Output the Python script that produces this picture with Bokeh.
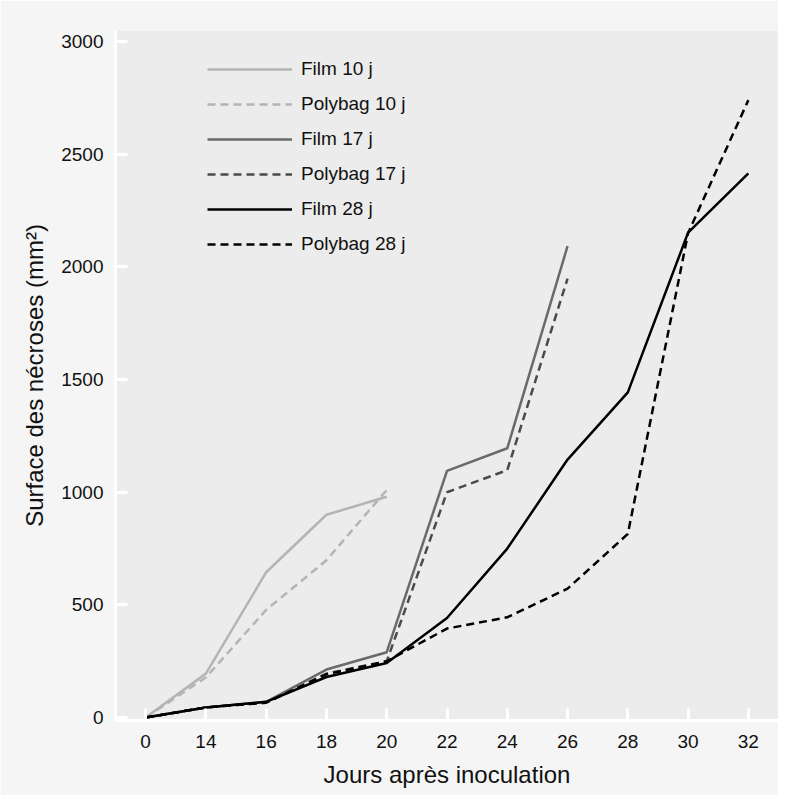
from bokeh.plotting import figure
from bokeh.models import FixedTicker, Legend, LegendItem
from bokeh.embed import file_html
from bokeh.resources import INLINE

days = ["0", "14", "16", "18", "20", "22", "24", "26", "28", "30", "32"]

film_10 = [0, 195, 645, 900, 980]
polybag_10 = [0, 178, 478, 698, 1010]
film_17 = [0, 45, 70, 213, 290, 1095, 1195, 2092]
polybag_17 = [0, 45, 66, 195, 250, 1000, 1098, 1948]
film_28 = [0, 45, 70, 180, 242, 442, 750, 1145, 1443, 2152, 2415]
polybag_28 = [0, 45, 66, 192, 250, 395, 445, 572, 815, 2150, 2740]

series = [
    ("Film 10 j", film_10, "#b4b4b4", "solid"),
    ("Polybag 10 j", polybag_10, "#b4b4b4", "8 5"),
    ("Film 17 j", film_17, "#6a6a6a", "solid"),
    ("Polybag 17 j", polybag_17, "#4a4a4a", "8 5"),
    ("Film 28 j", film_28, "#000000", "solid"),
    ("Polybag 28 j", polybag_28, "#000000", "8 5"),
]

FONT = "Liberation Sans"

p = figure(width=778, height=795, output_backend="svg", toolbar_location=None,
           x_range=(-0.5, 10.5), y_range=(-13, 3049),
           min_border_left=115, min_border_right=0, min_border_top=30, min_border_bottom=75)

p.background_fill_color = "#ececec"
p.border_fill_color = "#f5f5f5"
p.outline_line_color = None
p.grid.visible = False

items = []
for name, vals, color, dash in series:
    xs = list(range(len(vals)))
    r = p.line(xs, vals, line_color=color, line_width=2.5, line_dash=dash)
    items.append(LegendItem(label=name, renderers=[r]))

p.xaxis.ticker = FixedTicker(ticks=list(range(len(days))))
p.xaxis.major_label_overrides = {i: d for i, d in enumerate(days)}
p.yaxis.ticker = FixedTicker(ticks=[0, 500, 1000, 1500, 2000, 2500, 3000])

for ax in (p.xaxis[0], p.yaxis[0]):
    ax.axis_line_color = "white"
    ax.axis_line_width = 3
    ax.major_tick_line_color = "white"
    ax.major_tick_line_width = 3
    ax.major_tick_in = 12
    ax.major_tick_out = 0
    ax.minor_tick_line_color = None
    ax.major_label_text_font = FONT
    ax.major_label_text_font_size = "19px"
    ax.major_label_text_color = "#111111"
    ax.axis_label_text_font = FONT
    ax.axis_label_text_font_size = "24px"
    ax.axis_label_text_font_style = "normal"
    ax.axis_label_text_color = "#111111"

p.xaxis.axis_label = "Jours après inoculation"
p.xaxis.major_label_standoff = 14
p.xaxis.axis_label_standoff = 10
p.yaxis.axis_label = "Surface des nécroses (mm²)"
p.yaxis.major_label_standoff = 12
p.yaxis.axis_label_standoff = 10

legend = Legend(items=items, location=(92, 465), orientation="vertical")
legend.background_fill_alpha = 0
legend.border_line_color = None
legend.padding = 0
legend.margin = 0
legend.spacing = 13
legend.glyph_width = 85
legend.glyph_height = 22
legend.label_standoff = 9
legend.label_text_font = FONT
legend.label_text_font_size = "19px"
legend.label_text_color = "#111111"
p.add_layout(legend, "center")

open("out.html", "w").write(file_html(p, INLINE))
